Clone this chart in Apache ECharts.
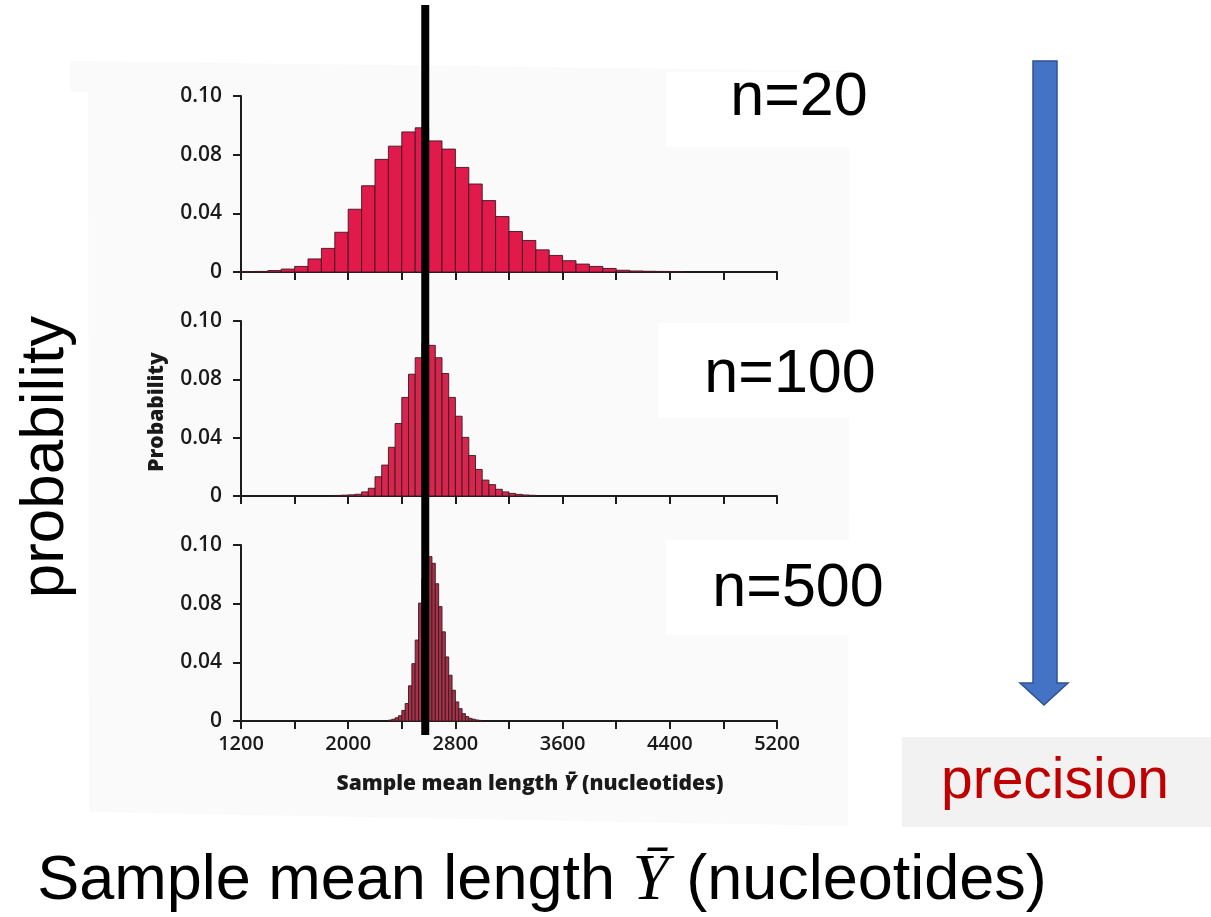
<!DOCTYPE html>
<html><head><meta charset="utf-8">
<script src="https://cdn.jsdelivr.net/npm/echarts@6/dist/echarts.min.js"></script>
<style>html,body{margin:0;padding:0;background:#fff}#c{width:1211px;height:917px}</style>
</head><body><div id="c"></div>
<script>
// ---- data ----
const xMin = 1200, xMax = 5200, xTickStep = 400;
const xLabelValues = [1200, 2000, 2800, 3600, 4400, 5200];
// y axis: equally spaced ticks (0 .. 0.12 by 0.04), printed as in the source figure
const yMax = 0.12, yTickStep = 0.04;
const yTickLabels = ['0', '0.04', '0.08', '0.10'];
const panelLabels = ['n=20', 'n=100', 'n=500'];
const meanLength = 2575;

const binWidth20 = 100;
const binStarts20 = [1200,1300,1400,1500,1600,1700,1800,1900,2000,2100,2200,2300,2400,2500,2600,2700,2800,2900,3000,3100,3200,3300,3400,3500,3600,3700,3800,3900,4000,4100,4200,4300,4400];
const probs20 = [0.0002,0.0004,0.0010,0.0020,0.0038,0.0089,0.0161,0.0271,0.0428,0.0588,0.0768,0.0858,0.0955,0.0983,0.0894,0.0838,0.0713,0.0600,0.0487,0.0378,0.0276,0.0215,0.0151,0.0113,0.0077,0.0054,0.0038,0.0024,0.0012,0.0007,0.0005,0.0004,0.0002];

const binWidth100 = 50;
const binStarts100 = [1900,1950,2000,2050,2100,2150,2200,2250,2300,2350,2400,2450,2500,2550,2600,2650,2700,2750,2800,2850,2900,2950,3000,3050,3100,3150,3200,3250,3300,3350];
const probs100 = [0.0004,0.0006,0.0008,0.0012,0.0028,0.0053,0.0132,0.0212,0.0334,0.0497,0.0676,0.0835,0.0948,0.1051,0.1033,0.0948,0.0840,0.0676,0.0547,0.0402,0.0278,0.0182,0.0109,0.0078,0.0046,0.0028,0.0018,0.0011,0.0007,0.0005];

const binWidth500 = 25;
const binStarts500 = [2300,2325,2350,2375,2400,2425,2450,2475,2500,2525,2550,2575,2600,2625,2650,2675,2700,2725,2750,2775,2800,2825,2850,2875,2900,2925,2950,2975];
const probs500 = [0.0006,0.0012,0.0022,0.0036,0.0072,0.0119,0.0240,0.0391,0.0552,0.0804,0.0972,0.1080,0.1121,0.1075,0.0936,0.0780,0.0608,0.0437,0.0312,0.0210,0.0130,0.0084,0.0050,0.0030,0.0018,0.0012,0.0007,0.0004];

// ---- chart ----
const panels = [
  {starts: binStarts20, probs: probs20, w: binWidth20, color: '#e21a4b', top: 96, height: 176},
  {starts: binStarts100, probs: probs100, w: binWidth100, color: '#d6264e', top: 321, height: 175},
  {starts: binStarts500, probs: probs500, w: binWidth500, color: '#a6324a', top: 545, height: 176}
];
const scanFont = "'Open Sans', 'DejaVu Sans', sans-serif";
const bigFont = "'Liberation Sans', Arial, sans-serif";
const axisCol = '#1c1c1c';

const chart = echarts.init(document.getElementById('c'), null, {renderer: 'canvas'});

const grids = [], xAxes = [], yAxes = [], series = [];
panels.forEach((p, i) => {
  grids.push({left: 241, width: 536, top: p.top, height: p.height, containLabel: false});
  xAxes.push({
    type: 'value', gridIndex: i, min: xMin, max: xMax, interval: xTickStep,
    axisLine: {show: true, onZero: false, lineStyle: {color: axisCol, width: 2}},
    axisTick: {show: true, length: 8, lineStyle: {color: axisCol, width: 2}},
    axisLabel: i === 2 ? {show: true, customValues: xLabelValues, margin: 13, color: '#1a1a1a',
      fontFamily: scanFont, fontWeight: 600, fontSize: 20, formatter: v => String(v)} : {show: false},
    splitLine: {show: false}
  });
  yAxes.push({
    type: 'value', gridIndex: i, min: 0, max: yMax, interval: yTickStep,
    axisLine: {show: true, lineStyle: {color: axisCol, width: 2}},
    axisTick: {show: true, length: 8, lineStyle: {color: axisCol, width: 2}},
    axisLabel: {show: true, margin: 19, color: '#1a1a1a',
      fontFamily: scanFont, fontWeight: 600, fontSize: 21,
      formatter: v => yTickLabels[Math.round(v / yTickStep)]},
    splitLine: {show: false}
  });
  const w = p.w, col = p.color;
  series.push({
    type: 'custom', xAxisIndex: i, yAxisIndex: i, z: 3,
    data: p.starts.map((s, k) => [s, p.probs[k]]),
    renderItem: function (params, api) {
      const x0 = api.value(0), y = api.value(1);
      const a = api.coord([x0, y]);
      const b = api.coord([x0 + w, 0]);
      return {type: 'rect', shape: {x: a[0], y: a[1], width: b[0] - a[0], height: b[1] - a[1]},
        style: {fill: col, stroke: '#3a1820', lineWidth: 0.9}};
    }
  });
});

chart.setOption({
  animation: false,
  backgroundColor: '#ffffff',
  grid: grids, xAxis: xAxes, yAxis: yAxes, series: series
});

const lineX = chart.convertToPixel({xAxisIndex: 0}, meanLength);

const graphics = [
  // scanned figure background
  {type: 'polygon', z: -10, shape: {points: [[70,61],[850,71],[848,826],[89,812],[88,92],[70,92]]},
   style: {fill: '#fafafa'}},
  {type: 'rect', z: -9, shape: {x: 666, y: 72, width: 545, height: 75}, style: {fill: '#ffffff'}},
  {type: 'rect', z: -9, shape: {x: 658, y: 323, width: 553, height: 95}, style: {fill: '#ffffff'}},
  {type: 'rect', z: -9, shape: {x: 666, y: 540, width: 545, height: 95}, style: {fill: '#ffffff'}},
  // mean line
  {type: 'rect', z: 100, shape: {x: lineX - 4, y: 5, width: 8, height: 730}, style: {fill: '#000000'}},
  // small scanned labels
  {type: 'text', z: 50, x: 157, y: 412, rotation: Math.PI / 2,
   style: {text: 'Probability', fontFamily: scanFont, fontWeight: 800, fontSize: 21, fill: '#1a1a1a',
     align: 'center', verticalAlign: 'middle'}},
  {type: 'text', z: 50, x: 530, y: 784,
   style: {text: 'Sample mean length {y|Ȳ} (nucleotides)', fontFamily: scanFont, fontWeight: 800, fontSize: 21,
     fill: '#1a1a1a', align: 'center', verticalAlign: 'middle',
     rich: {y: {fontFamily: scanFont, fontWeight: 800, fontSize: 21, fontStyle: 'italic', fill: '#1a1a1a'}}}},
  // panel labels
  {type: 'text', z: 50, x: 799, y: 98, style: {text: panelLabels[0], fontFamily: bigFont, fontSize: 61, fill: '#000',
     align: 'center', verticalAlign: 'middle'}},
  {type: 'text', z: 50, x: 790, y: 375, style: {text: panelLabels[1], fontFamily: bigFont, fontSize: 61, fill: '#000',
     align: 'center', verticalAlign: 'middle'}},
  {type: 'text', z: 50, x: 798, y: 589, style: {text: panelLabels[2], fontFamily: bigFont, fontSize: 61, fill: '#000',
     align: 'center', verticalAlign: 'middle'}},
  // big y title
  {type: 'text', z: 50, x: 46, y: 457, rotation: Math.PI / 2,
   style: {text: 'probability', fontFamily: bigFont, fontSize: 62, fill: '#000', align: 'center', verticalAlign: 'middle'}},
  // big x title
  {type: 'text', z: 50, x: 542, y: 882,
   style: {text: 'Sample mean length {y|Ȳ} (nucleotides)', fontFamily: bigFont, fontSize: 63, fill: '#000',
     align: 'center', verticalAlign: 'middle',
     rich: {y: {fontFamily: "'Liberation Serif', 'DejaVu Serif', serif", fontStyle: 'italic', fontSize: 65, fill: '#000'}}}},
  // arrow
  {type: 'polygon', z: 50, shape: {points: [[1033,61],[1057,61],[1057,683],[1068,683],[1044,705],[1020,683],[1033,683]]},
   style: {fill: '#4472c4', stroke: '#2f528f', lineWidth: 1.5}},
  // precision box
  {type: 'rect', z: 40, shape: {x: 902, y: 737, width: 309, height: 90}, style: {fill: '#f2f2f2'}},
  {type: 'text', z: 50, x: 1055, y: 782, style: {text: 'precision', fontFamily: bigFont, fontSize: 57, fill: '#c00000',
     align: 'center', verticalAlign: 'middle'}}
];
chart.setOption({graphic: graphics});
</script></body></html>
